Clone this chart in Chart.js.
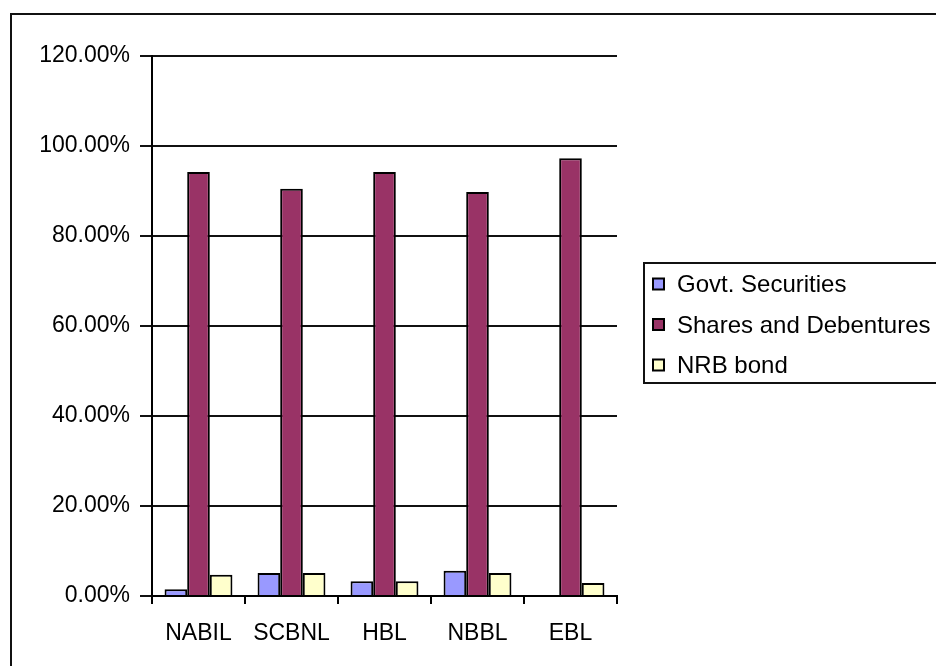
<!DOCTYPE html>
<html>
<head>
<meta charset="utf-8">
<script src="https://cdn.jsdelivr.net/npm/chart.js@4"></script>
<style>
  html, body { margin: 0; padding: 0; background: #fff; }
  canvas { display: block; }
</style>
</head>
<body>
<canvas id="grafico" width="936" height="666"></canvas>
<script>
const bancos = ['NABIL', 'SCBNL', 'HBL', 'NBBL', 'EBL'];
const govt_securities = [0.015, 0.051, 0.033, 0.056, 0];
const shares_debentures = [0.942, 0.905, 0.942, 0.898, 0.973];
const nrb_bond = [0.047, 0.051, 0.033, 0.051, 0.029];
const nomes_series = ['Govt. Securities', 'Shares and Debentures', 'NRB bond'];
const cores = ['#9999FF', '#993366', '#FFFFCC'];

const fonte = 'Arial, "Liberation Sans", sans-serif';

// moldura externa e legenda desenhadas a mao
const moldura = {
    id: 'moldura',
    beforeDraw: (chart) => {
        const ctx = chart.ctx;
        ctx.save();
        ctx.fillStyle = '#fff';
        ctx.fillRect(0, 0, chart.width, chart.height);
        ctx.strokeStyle = '#111';
        ctx.lineWidth = 2;
        ctx.strokeRect(11, 14, chart.width + 20, chart.height + 20);
        ctx.restore();
    },
    afterDraw: (chart) => {
        const ctx = chart.ctx;
        ctx.save();
        ctx.strokeStyle = '#111';
        ctx.lineWidth = 2;
        ctx.strokeRect(644, 263, 320, 120);
        ctx.font = '24px ' + fonte;
        ctx.textBaseline = 'middle';
        chart.data.datasets.forEach((ds, i) => {
            const y = 284.5 + i * 40.5;
            ctx.fillStyle = ds.backgroundColor;
            ctx.fillRect(653, y - 6, 11, 11);
            ctx.lineWidth = 2;
            ctx.strokeStyle = '#000';
            ctx.strokeRect(653, y - 6, 11, 11);
            ctx.fillStyle = '#000';
            ctx.fillText(ds.label, 677, y + 1);
        });
        ctx.restore();
    }
};

const series = [govt_securities, shares_debentures, nrb_bond];

const chartGraph = new Chart(document.getElementById('grafico'), {
    type: 'bar',
    data: {
        labels: bancos,
        datasets: series.map((valores, i) => ({
            label: nomes_series[i],
            data: valores,
            backgroundColor: cores[i],
            borderColor: '#000',
            borderWidth: 2,
            borderSkipped: 'bottom',
        }))
    },
    options: {
        responsive: false,
        animation: false,
        layout: {
            padding: { top: 56, right: 319, bottom: 0, left: 0 }
        },
        datasets: {
            bar: { categoryPercentage: 0.73, barPercentage: 1 }
        },
        plugins: {
            legend: { display: false },
            tooltip: { enabled: false },
        },
        scales: {
            x: {
                grid: {
                    offset: true,
                    drawOnChartArea: false,
                    color: '#000',
                    lineWidth: 2,
                    tickLength: 8,
                },
                border: { color: '#000', width: 2 },
                ticks: {
                    color: '#000',
                    font: { family: fonte, size: 23 },
                    padding: 16,
                    maxRotation: 0,
                },
                afterFit: (scale) => { scale.height = 70; },
            },
            y: {
                min: 0,
                max: 1.2,
                grid: {
                    color: '#111',
                    lineWidth: 2,
                    tickLength: 12,
                },
                border: { color: '#000', width: 2 },
                ticks: {
                    stepSize: 0.2,
                    color: '#000',
                    font: { family: fonte, size: 23 },
                    padding: 10,
                    callback: (v) => (v * 100).toFixed(2) + '%',
                },
                afterFit: (scale) => { scale.width = 152; },
            }
        }
    },
    plugins: [moldura]
});
</script>
</body>
</html>
